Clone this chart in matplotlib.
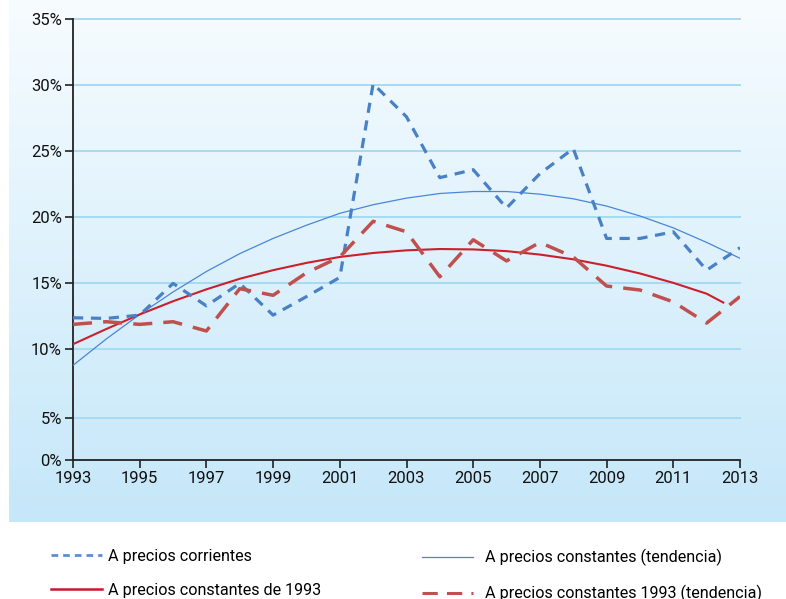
import numpy as np
import matplotlib
matplotlib.use("Agg")
import matplotlib.pyplot as plt
from matplotlib.lines import Line2D

plt.rcParams["font.family"] = ["Roboto", "DejaVu Sans"]

years = list(range(1993, 2014))

# A precios corrientes (blue dashed)
corrientes = [12.4, 12.35, 12.6, 15.0, 13.3, 15.0, 12.6, 14.0, 15.45, 30.1,
              27.6, 23.0, 23.6, 20.7, 23.3, 25.2, 18.4, 18.4, 18.9, 16.0, 17.7]

# A precios constantes 1993 (red long dashed)
constantes_1993 = [11.9, 12.1, 11.9, 12.1, 11.4, 14.6, 14.1, 15.8, 17.0, 19.7,
                   18.9, 15.5, 18.3, 16.7, 18.1, 17.0, 14.8, 14.5, 13.6, 12.0, 14.0]

# thin blue trend
trend_blue = [8.8, 10.8, 12.65, 14.35, 15.9, 17.25, 18.4, 19.4, 20.3, 20.95,
              21.45, 21.8, 21.95, 21.95, 21.75, 21.4, 20.85, 20.1, 19.2, 18.1, 16.9]

# red solid trend (ends half a year early)
trend_red_years = list(range(1993, 2013)) + [2012.5]
trend_red = [10.4, 11.55, 12.65, 13.65, 14.55, 15.35, 16.0, 16.55, 17.0, 17.3,
             17.5, 17.6, 17.57, 17.44, 17.18, 16.82, 16.34, 15.75, 15.04, 14.22, 13.55]

ytick_vals = [1.64, 4.83, 10, 15, 20, 25, 30, 35]
ytick_labels = ["0%", "5%", "10%", "15%", "20%", "25%", "30%", "35%"]
xtick_vals = list(range(1993, 2014, 2))

W, H = 786, 599
fig = plt.figure(figsize=(W / 100, H / 100), dpi=100)

# gradient background panel
bg = fig.add_axes([9 / W, 1 - 522 / H, 777 / W, 522 / H], zorder=-10)
top = np.array([247, 252, 255]) / 255
bot = np.array([197, 231, 249]) / 255
t = np.linspace(0, 1, 256)[:, None]
grad = (top[None, :] * (1 - t) + bot[None, :] * t)[:, None, :]
bg.imshow(grad, aspect="auto", extent=[0, 1, 0, 1])
bg.set_axis_off()

ax = fig.add_axes([73 / W, 1 - 460 / H, (740 - 73) / W, (460 - 19) / H])
ax.patch.set_alpha(0)

for v in ytick_vals[1:]:
    ax.axhline(v, color="#a6daf3", lw=1.4, zorder=1, clip_on=False)

ax.plot(years, trend_blue, color="#4a86d6", lw=0.9, zorder=3)
ax.plot(trend_red_years, trend_red, color="#cc1f2b", lw=1.5, zorder=3)
ax.plot(years, corrientes, color="#4a80c6", lw=2.3, dashes=(3.2, 2.4), zorder=4)
ax.plot(years, constantes_1993, color="#c0504d", lw=2.5, dashes=(5.5, 3.2), zorder=4)

ax.set_xlim(1993, 2013)
ax.set_ylim(1.64, 35)
ax.set_xticks(xtick_vals)
ax.set_yticks(ytick_vals)
ax.set_yticklabels(ytick_labels)
ax.tick_params(axis="both", direction="out", length=6, width=1.2, color="#222222",
               labelsize=12, labelcolor="#111111", pad=2)
for s in ["top", "right"]:
    ax.spines[s].set_visible(False)
for s in ["left", "bottom"]:
    ax.spines[s].set_color("#222222")
    ax.spines[s].set_linewidth(1.3)

left_handles = [
    Line2D([], [], color="#5b8fd0", lw=2.0, dashes=(2.4, 1.8)),
    Line2D([], [], color="#c8182b", lw=1.8),
]
left_labels = ["A precios corrientes", "A precios constantes de 1993"]
right_handles = [
    Line2D([], [], color="#4a86d6", lw=0.9),
    Line2D([], [], color="#c0504d", lw=2.2, dashes=(5.0, 3.0)),
]
right_labels = ["A precios constantes (tendencia)", "A precios constantes 1993 (tendencia)"]

common = dict(frameon=False, loc="upper left", borderpad=0, borderaxespad=0,
              handlelength=3.15, labelspacing=1.15, prop={"size": 11.6})
fig.legend(left_handles, left_labels, bbox_to_anchor=(51 / W, 1 - 549 / H),
           handletextpad=0.4, **common)
fig.legend(right_handles, right_labels, bbox_to_anchor=(422 / W, 1 - 549 / H),
           handletextpad=0.75, **common)

fig.savefig("out.png", dpi=100)
